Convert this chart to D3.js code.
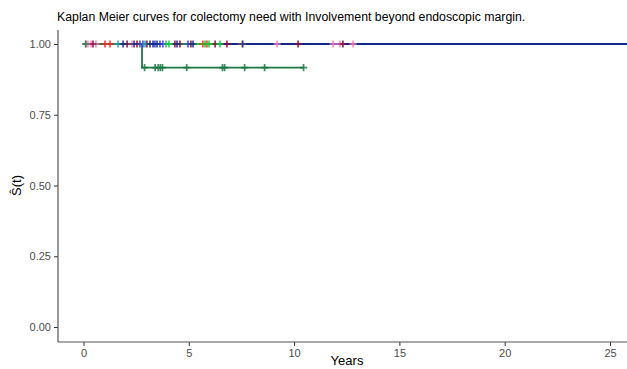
<!DOCTYPE html>
<html>
<head>
<meta charset="utf-8">
<script src="https://cdn.jsdelivr.net/npm/d3@7"></script>
<style>
body { margin: 0; background: #fff; }
text { font-family: "Liberation Sans", Arial, sans-serif; }
</style>
</head>
<body>
<svg width="627" height="369"></svg>
<script>
var titleText = "Kaplan Meier curves for colectomy need with Involvement beyond endoscopic margin.";
var xTicks = [0, 5, 10, 15, 20, 25];
var yTicks = [0, 0.25, 0.5, 0.75, 1];

// groups, drawn in this order (last on top)
var groupNames = ["pink", "red", "maroon", "blue", "teal", "gold", "navy", "green", "darkgreen"];
var groupColors = ["#FF7FBF", "#FF2626", "#8C0A3C", "#3A3AD6", "#2AA5A5", "#E3B33A", "#14288C", "#12CC3C", "#1B7A44"];
// censored follow-up times (years)
var censorTimes = [
  [0.12, 0.21, 0.36, 0.59, 2.30, 9.19, 11.85, 12.18, 12.80],
  [1.02, 1.26, 5.67, 5.86],
  [0.45, 2.07, 2.54, 3.01, 4.34, 4.58, 5.10, 6.25, 6.81, 10.19, 12.32],
  [2.68, 2.82, 3.39, 3.63, 3.77, 4.96],
  [1.64, 2.92, 3.92],
  [7.53],
  [1.88, 2.40, 3.16, 3.30, 3.49, 4.44, 5.20, 7.56, 27.5],
  [4.06, 5.77, 5.96, 6.48],
  [0.1, 2.90, 3.40, 3.55, 3.65, 3.75, 4.90, 6.60, 6.70, 7.65, 8.60, 10.45]
];
// colectomy event times (years)
var eventTimes = [[], [], [], [], [], [], [], [], [2.78]];

var svg = d3.select("svg"),
    width = +svg.attr("width"),
    height = +svg.attr("height");

var panel = {left: 58, right: 636, top: 30, bottom: 342};

var x = d3.scaleLinear().domain([0, 25]).range([83.5, 610]);
var y = d3.scaleLinear().domain([0, 1]).range([327, 44]);

svg.append("defs").append("clipPath").attr("id", "clip")
  .append("rect")
  .attr("x", panel.left).attr("y", panel.top)
  .attr("width", panel.right - panel.left).attr("height", panel.bottom - panel.top);

// Kaplan-Meier estimate for one group
function km(cens, evts) {
  var all = cens.map(function(t) { return {t: t, e: 0}; })
    .concat(evts.map(function(t) { return {t: t, e: 1}; }))
    .sort(function(a, b) { return a.t - b.t || b.e - a.e; });
  var n = all.length, s = 1, steps = [[0, 1]], marks = [];
  var i = 0;
  while (i < all.length) {
    var t = all[i].t, d = 0, c = 0;
    while (i < all.length && all[i].t === t) { if (all[i].e) d++; else c++; i++; }
    if (d > 0) { s = s * (1 - d / n); steps.push([t, s]); }
    if (c > 0) marks.push([t, s]);
    n -= d + c;
  }
  steps.push([all[all.length - 1].t, s]);
  return {steps: steps, marks: marks};
}

var curves = groupNames.map(function(g, i) {
  var r = km(censorTimes[i], eventTimes[i]);
  r.color = groupColors[i];
  return r;
});

var line = d3.line()
  .x(function(d) { return x(d[0]); })
  .y(function(d) { return y(d[1]); })
  .curve(d3.curveStepAfter);

var plot = svg.append("g").attr("clip-path", "url(#clip)");

plot.append("g").selectAll("path")
  .data(curves)
  .enter().append("path")
    .attr("d", function(d) { return line(d.steps); })
    .style("fill", "none")
    .style("stroke", function(d) { return d.color; })
    .style("stroke-width", 1.8);

var sz = 3.6;
curves.forEach(function(c) {
  plot.append("g").selectAll("path")
    .data(c.marks)
    .enter().append("path")
      .attr("d", function(d) {
        var px = x(d[0]), py = y(d[1]);
        return "M" + (px - sz) + "," + py + "H" + (px + sz) + "M" + px + "," + (py - sz) + "V" + (py + sz);
      })
      .style("stroke", c.color)
      .style("stroke-width", 1.7)
      .style("opacity", 0.85);
});

// axes
var xAxis = svg.append("g")
  .attr("transform", "translate(0," + panel.bottom + ")")
  .call(d3.axisBottom(x).tickValues(xTicks).tickSize(4).tickSizeOuter(0).tickPadding(3));
xAxis.select(".domain").remove();
xAxis.selectAll("line").style("stroke", "#333");
xAxis.selectAll("text").style("font-size", "11px").style("fill", "#4d4d4d")
  .style("font-family", "'Liberation Sans', Arial, sans-serif");

var yAxis = svg.append("g")
  .attr("transform", "translate(" + panel.left + ",0)")
  .call(d3.axisLeft(y).tickValues(yTicks).tickFormat(d3.format(".2f")).tickSize(4).tickSizeOuter(0).tickPadding(3));
yAxis.select(".domain").remove();
yAxis.selectAll("line").style("stroke", "#333");
yAxis.selectAll("text").style("font-size", "11px").style("fill", "#4d4d4d")
  .style("font-family", "'Liberation Sans', Arial, sans-serif");

svg.append("line")
  .attr("x1", panel.left).attr("x2", width)
  .attr("y1", panel.bottom).attr("y2", panel.bottom)
  .style("stroke", "#555").style("stroke-width", 1.2);
svg.append("line")
  .attr("x1", panel.left).attr("x2", panel.left)
  .attr("y1", panel.top).attr("y2", panel.bottom)
  .style("stroke", "#555").style("stroke-width", 1.2);

svg.append("text")
  .attr("x", (panel.left + panel.right) / 2).attr("y", 365)
  .attr("text-anchor", "middle")
  .style("font-size", "13px")
  .text("Years");

svg.append("text")
  .attr("transform", "translate(21," + y(0.5) + ") rotate(-90)")
  .attr("text-anchor", "middle")
  .style("font-size", "13px")
  .text("Ŝ(t)");

svg.append("text")
  .attr("x", 57).attr("y", 21)
  .style("font-size", "12.3px")
  .text(titleText);
</script>
</body>
</html>
